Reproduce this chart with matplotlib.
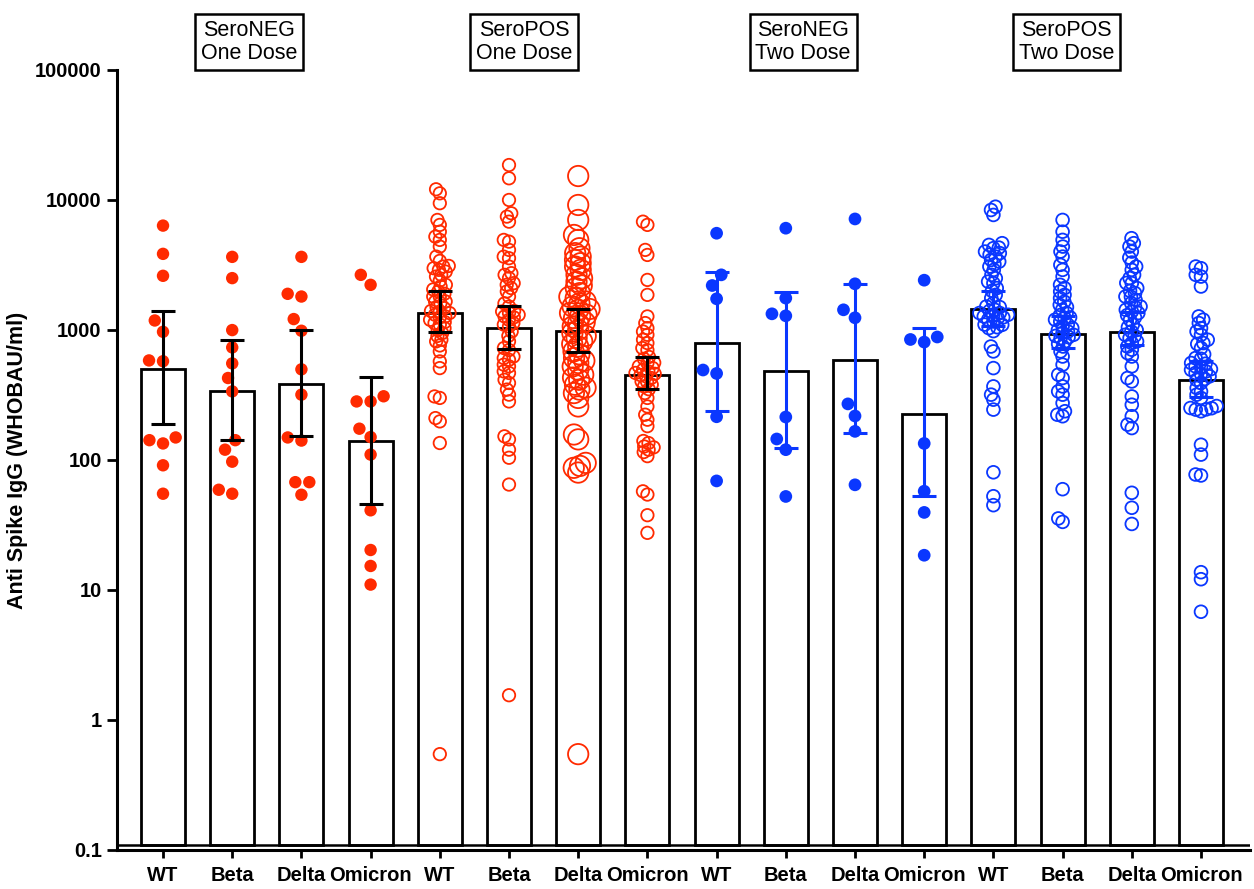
import numpy as np
import matplotlib
matplotlib.use('Agg')
import matplotlib.pyplot as plt
from matplotlib.ticker import NullLocator
from matplotlib.transforms import blended_transform_factory

plt.rcParams['font.family'] = ['Liberation Sans', 'DejaVu Sans']

# ---------------- data ----------------
categories = ['WT', 'Beta', 'Delta', 'Omicron'] * 4
group_labels = ['SeroNEG\nOne Dose', 'SeroPOS\nOne Dose', 'SeroNEG\nTwo Dose', 'SeroPOS\nTwo Dose']
y_ticks = [0.1, 1, 10, 100, 1000, 10000, 100000]
y_ticklabels = ['0.1', '1', '10', '100', '1000', '10000', '100000']

bar_values = [504, 341, 384, 139, 1356, 1027, 974, 453, 793, 480, 590, 226, 1455, 935, 973, 414]
ci_low = [189, 142, 152, 46, 964, 717, 680, 352, 240, 124, 161, 52.4, 1070, 726, 768, 305]
ci_high = [1404, 836, 1000, 435, 1977, 1535, 1455, 619, 2786, 1965, 2265, 1027, 1977, 1271, 1370, 580]

neg1_wt = [6350, 3850, 2610, 1183, 968, 583, 575, 149, 134, 142, 91, 55]
neg1_beta = [3650, 2505, 998, 734, 553, 427, 337, 142, 120, 97, 55, 59]
neg1_delta = [3650, 1897, 1808, 1213, 986, 498, 318, 149, 141, 67.5, 67.5, 54]
neg1_omicron = [2224, 2655, 309, 282, 282, 174, 150, 110, 41, 20.3, 15.3, 11]

pos1_wt = [12080, 11250, 9440, 7020, 6430, 5700, 5220, 4930, 4380, 3665, 3400, 3110, 3075,
           2985, 2900, 2810, 2655, 2575, 2400, 2225, 2160, 2050, 1977, 1900, 1808, 1800, 1656,
           1650, 1607, 1500, 1472, 1400, 1387, 1350, 1309, 1271, 1250, 1197, 1150, 1130, 1100,
           1033, 1002, 946, 900, 841, 817, 760, 684, 573, 509, 308, 300, 210, 198, 135, 0.546]
pos1_beta = [18570, 14680, 10000, 7900, 7450, 6810, 4930, 4780, 4130, 3665, 3565, 3075, 2735,
             2655, 2505, 2290, 2225, 2100, 1977, 1808, 1600, 1515, 1400, 1387, 1350, 1309, 1271,
             1250, 1197, 1130, 1100, 1064, 973, 900, 817, 726, 700, 625, 608, 590, 541, 525,
             480, 467, 414, 391, 348, 318, 282, 152, 144, 120, 104, 64.7, 1.55]
pos1_delta = [15280, 9150, 7020, 5380, 4930, 4255, 3900, 3665, 3460, 3265, 3075, 2900, 2655,
              2500, 2355, 2200, 2100, 1920, 1800, 1758, 1656, 1600, 1515, 1450, 1429, 1350,
              1309, 1280, 1233, 1150, 1130, 1064, 1000, 946, 900, 867, 817, 780, 746, 684, 650,
              608, 580, 557, 525, 494, 453, 430, 414, 379, 360, 348, 327, 300, 258, 157, 144,
              95, 90, 87, 80, 0.546]
pos1_omicron = [6810, 6430, 4130, 3776, 2427, 1862, 1271, 1130, 1033, 973, 918, 841, 793, 726,
                700, 620, 600, 560, 557, 525, 510, 494, 480, 467, 460, 450, 440, 427, 402, 400,
                380, 368, 350, 327, 300, 258, 223, 204, 182, 140, 135, 127, 125, 120, 115, 107,
                57.4, 54.2, 37.6, 27.5]

neg2_wt = [5548, 2655, 2198, 1737, 492, 463, 215, 69]
neg2_beta = [6066, 1758, 1331, 1285, 214, 145, 120, 52.4]
neg2_delta = [7145, 2265, 1429, 1241, 270, 218, 166, 64.4]
neg2_omicron = [2415, 883, 845, 807, 134, 57.5, 39.5, 18.5]

pos2_wt = [8870, 8375, 7670, 4650, 4510, 4300, 4255, 4010, 3900, 3800, 3665, 3460, 3357, 3200,
           3075, 2900, 2655, 2500, 2355, 2290, 2100, 2000, 1862, 1758, 1607, 1515, 1500, 1429,
           1400, 1350, 1350, 1309, 1300, 1271, 1250, 1233, 1200, 1162, 1100, 1096, 1050, 1033,
           980, 746, 684, 509, 368, 318, 291, 244, 80.4, 52.6, 44.9]
pos2_beta = [7020, 5700, 4930, 4380, 4010, 3665, 3170, 2900, 2575, 2225, 2100, 1977, 1862, 1758,
             1650, 1560, 1500, 1429, 1350, 1300, 1250, 1233, 1200, 1162, 1100, 1064, 1033, 1000,
             973, 950, 918, 900, 880, 867, 817, 780, 746, 684, 625, 541, 453, 427, 368, 337,
             318, 274, 237, 223, 217, 59.6, 35.5, 33.4]
pos2_delta = [5080, 4650, 4380, 4010, 3600, 3300, 3075, 2900, 2655, 2505, 2300, 2290, 2100,
              2000, 1920, 1808, 1800, 1706, 1607, 1515, 1500, 1429, 1387, 1350, 1300, 1250,
              1197, 1100, 1050, 1000, 973, 918, 900, 867, 817, 793, 746, 705, 664, 625, 525,
              427, 402, 308, 266, 217, 187, 176, 55.9, 42.9, 32.2]
pos2_omicron = [3075, 2985, 2655, 2575, 2160, 1271, 1200, 1130, 1033, 973, 918, 841, 793, 780,
                726, 650, 608, 600, 557, 550, 525, 520, 500, 494, 480, 467, 460, 440, 420, 414,
                391, 358, 337, 318, 300, 260, 251, 250, 245, 244, 237, 131, 110, 77.3, 76,
                13.7, 12.1, 6.8]

point_sets = [neg1_wt, neg1_beta, neg1_delta, neg1_omicron,
              pos1_wt, pos1_beta, pos1_delta, pos1_omicron,
              neg2_wt, neg2_beta, neg2_delta, neg2_omicron,
              pos2_wt, pos2_beta, pos2_delta, pos2_omicron]

# ---------------- style ----------------
RED = '#FF2A00'
BLUE = '#0A37FF'
group_color = [RED] * 8 + [BLUE] * 8
filled = [True] * 4 + [False] * 4 + [True] * 4 + [False] * 4
marker_size = [80] * 4 + [80, 80, 215, 80] + [84] * 4 + [84] * 4
swarm_dist = [14] * 4 + [5.5, 5.5, 6.5, 5.5] + [14] * 4 + [5.5] * 4
err_color = ['black'] * 8 + [BLUE] * 8
box_x = [1.24, 5.22, 9.25, 13.06]
base = 0.109

fig = plt.figure(figsize=(12.54, 8.89), dpi=100)
ax = fig.add_axes([0.0933, 0.0439, 0.9035, 0.8774])
ax.set_yscale('log')
ax.set_ylim(0.1, 100000)
ax.set_xlim(-0.665, 15.708)

x = np.arange(len(categories))
bv = np.array(bar_values, dtype=float)
ax.bar(x, bv - base, bottom=base, width=0.636, color='white', edgecolor='black',
       linewidth=2.0, zorder=1)
ax.axhline(base, color='black', lw=1.8, zorder=1.5)


def swarm(ypix, d):
    order = np.argsort(ypix)
    placed = []
    xs = np.zeros(len(ypix))
    for i in order:
        y = ypix[i]
        cands = [0.0]
        for (xj, yj) in placed:
            dy = y - yj
            if abs(dy) < d:
                dx = np.sqrt(d * d - dy * dy)
                cands += [xj + dx, xj - dx]
        cands.sort(key=lambda c: (abs(c), c))
        chosen = cands[-1]
        for c in cands:
            if all((c - xj) ** 2 + (y - yj) ** 2 >= d * d - 1e-6 for xj, yj in placed):
                chosen = c
                break
        xs[i] = chosen
        placed.append((chosen, y))
    return xs


px_per_unit = ax.transData.transform((1, 1))[0] - ax.transData.transform((0, 1))[0]
for i, vals in enumerate(point_sets):
    vals = np.array(vals, dtype=float)
    ypix = ax.transData.transform(np.column_stack([np.zeros(len(vals)), vals]))[:, 1]
    offs = swarm(ypix, swarm_dist[i]) / px_per_unit
    if filled[i]:
        ax.scatter(x[i] + offs, vals, s=marker_size[i], color=group_color[i],
                   edgecolors='none', zorder=3)
    else:
        ax.scatter(x[i] + offs, vals, s=marker_size[i], facecolors='none',
                   edgecolors=group_color[i], linewidths=1.3, zorder=3)

for i in range(len(categories)):
    ax.errorbar(x[i], bar_values[i],
                yerr=[[bar_values[i] - ci_low[i]], [ci_high[i] - bar_values[i]]],
                fmt='none', ecolor=err_color[i], elinewidth=2.2, capsize=8.6,
                capthick=2.2, zorder=4)

# axes styling
ax.set_yticks(y_ticks)
ax.set_yticklabels(y_ticklabels, fontweight='bold', fontsize=14.5)
ax.yaxis.set_minor_locator(NullLocator())
ax.set_xticks(x)
ax.set_xticklabels(categories, fontweight='bold', fontsize=14.5)
ax.tick_params(axis='y', length=7, width=2, pad=4)
ax.tick_params(axis='x', length=5.5, width=2, pad=6)
for s in ['top', 'right']:
    ax.spines[s].set_visible(False)
for s in ['left', 'bottom']:
    ax.spines[s].set_linewidth(2.2)

fig.text(18 / 1254, 1 - 460 / 889, 'Anti Spike IgG (WHOBAU/ml)', rotation=90,
         ha='center', va='center', fontsize=15.5, fontweight='bold')

trans = blended_transform_factory(ax.transData, fig.transFigure)
for bx, lab in zip(box_x, group_labels):
    ax.text(bx, 1 - 42 / 889, lab, transform=trans, ha='center', va='center',
            fontsize=15.5, linespacing=1.15, clip_on=False,
            bbox=dict(boxstyle='square,pad=0.27', fc='white', ec='black', lw=1.8))

fig.savefig('out.png', dpi=100)
